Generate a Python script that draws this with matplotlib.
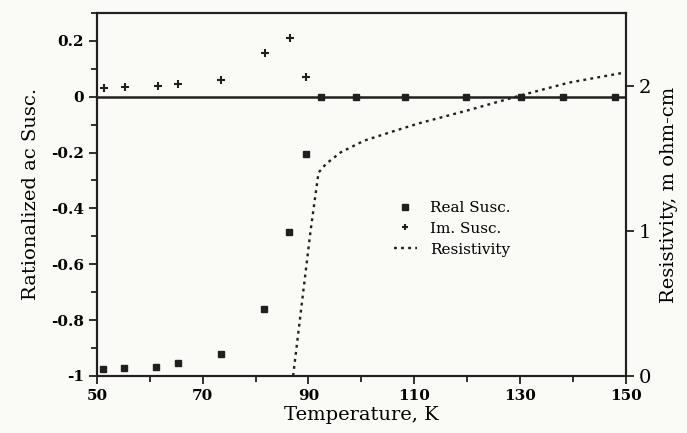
import numpy as np
from matplotlib import pyplot as plt
from matplotlib.ticker import MultipleLocator, FuncFormatter

# real part of ac susceptibility
real_t = [51.2, 55.1, 61.2, 65.3, 73.4, 81.6, 86.4, 89.6, 92.4, 98.9, 108.3, 119.8, 130.1, 138.2, 147.9]
real_s = [-0.975, -0.973, -0.968, -0.955, -0.921, -0.76, -0.484, -0.204, 0, 0, 0, 0, 0, 0, 0]

# imaginary part
im_t = [51.3, 55.3, 61.6, 65.4, 73.5, 81.7, 86.6, 89.5]
im_s = [0.032, 0.036, 0.039, 0.047, 0.061, 0.158, 0.21, 0.072]

# resistivity, m ohm-cm
res_t = [87.1, 90.4, 91.9, 93.3, 96.1, 100.5, 105.6, 110.9, 120.2, 127.0, 129.9, 139.2, 149.8]
res_r = [0.0, 1.0, 1.40, 1.46, 1.54, 1.62, 1.68, 1.74, 1.83, 1.90, 1.93, 2.02, 2.09]

x_major = [50, 70, 90, 110, 130, 150]
x_minor = [60, 80, 100, 120, 140]

plt.rcParams['axes.unicode_minus'] = False
plt.rcParams['font.family'] = 'DejaVu Serif'
bg = '#fafaf7'
ink = '#231f20'

fig = plt.figure(figsize=(6.87, 4.33), dpi=100, facecolor=bg)
ax = fig.add_axes([0.141, 0.132, 0.770, 0.838], facecolor=bg)
ax2 = ax.twinx()

ax.axhline(0, color=ink, lw=1.8, zorder=1)
h1, = ax.plot(real_t, real_s, 's', color=ink, ms=5, ls='none', label='Real Susc.', zorder=3)
h2, = ax.plot(im_t, im_s, '+', color=ink, ms=6, mew=1.5, ls='none', label='Im. Susc.', zorder=3)
h3, = ax2.plot(res_t, res_r, ls=(0, (1.2, 1.8)), color=ink, lw=1.7, label='Resistivity')

ax.set_xlim(50, 150)
ax.set_ylim(-1, 0.3)
ax2.set_ylim(0, 2.5)

ax.set_xticks(x_major)
ax.set_xticks(x_minor, minor=True)
ax.yaxis.set_major_locator(MultipleLocator(0.2))
ax.yaxis.set_minor_locator(MultipleLocator(0.1))
ax2.yaxis.set_major_locator(MultipleLocator(1))


def fmt(v, pos):
    if abs(v - round(v)) < 1e-9:
        return '%d' % round(v)
    return '%.1f' % v


ax.yaxis.set_major_formatter(FuncFormatter(fmt))

for a in (ax, ax2):
    for s in a.spines.values():
        s.set_linewidth(1.5)
        s.set_color(ink)
    a.tick_params(which='both', direction='out', color=ink, width=1.3)
    a.tick_params(which='major', length=6)
    a.tick_params(which='minor', length=4)

ax.tick_params(labelsize=11)
for lab in ax.get_xticklabels() + ax.get_yticklabels():
    lab.set_fontweight('bold')
ax2.tick_params(labelsize=14)

ax.set_xlabel('Temperature, K', fontsize=14, labelpad=2)
ax.set_ylabel('Rationalized ac Susc.', fontsize=14, labelpad=8)
ax2.set_ylabel('Resistivity, m ohm-cm', fontsize=14, labelpad=6)

ax.legend(handles=[h1, h2, h3], loc='upper left', bbox_to_anchor=(0.535, 0.52),
          frameon=False, fontsize=11, handlelength=1.5, labelspacing=0.45,
          handletextpad=0.9, markerscale=0.8)

fig.savefig('out.png', dpi=100, facecolor=bg)
